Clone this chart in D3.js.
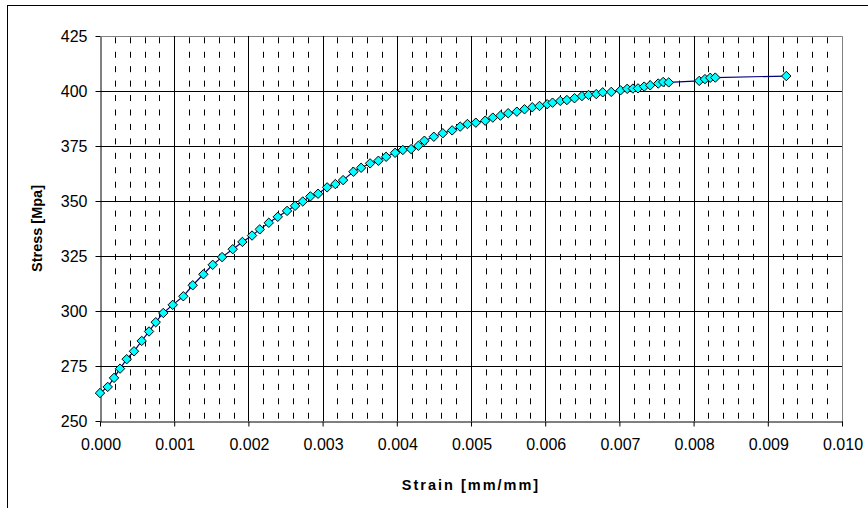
<!DOCTYPE html>
<html>
<head>
<meta charset="utf-8">
<script src="https://cdn.jsdelivr.net/npm/d3@7"></script>
<style>
  html, body { margin: 0; padding: 0; background: #fff; }
  svg { display: block; }
  text { font-family: "Liberation Sans", Arial, sans-serif; fill: #000; }
</style>
</head>
<body>
<svg id="chart" width="868" height="508"></svg>
<script>
// Strain (mm/mm) measured for each reading
const strain = [
  0.000000, 0.000104, 0.000189, 0.000270, 0.000360, 0.000458, 0.000562, 0.000661,
  0.000751, 0.000853, 0.000980, 0.001123, 0.001250, 0.001393, 0.001519, 0.001645,
  0.001789, 0.001919, 0.002049, 0.002153, 0.002275, 0.002396, 0.002521, 0.002629,
  0.002733, 0.002835, 0.002939, 0.003061, 0.003172, 0.003276, 0.003415, 0.003519,
  0.003640, 0.003752, 0.003856, 0.003977, 0.004081, 0.004193, 0.004291, 0.004372,
  0.004499, 0.004620, 0.004746, 0.004854, 0.004952, 0.005065, 0.005191, 0.005294,
  0.005397, 0.005501, 0.005618, 0.005721, 0.005825, 0.005923, 0.006027, 0.006099,
  0.006203, 0.006292, 0.006395, 0.006495, 0.006584, 0.006688, 0.006775, 0.006890,
  0.007015, 0.007105, 0.007182, 0.007251, 0.007334, 0.007415, 0.007523, 0.007590,
  0.007665, 0.008076, 0.008153, 0.008224, 0.008292, 0.009249
];
// Stress (MPa) at the same readings
const stress = [
  262.7, 265.5, 269.6, 273.8, 278.1, 281.7, 286.4, 290.7,
  294.9, 299.1, 302.8, 306.7, 311.7, 316.7, 321.0, 324.5,
  328.1, 331.4, 334.3, 337.1, 340.1, 342.8, 345.5, 347.8,
  349.8, 352.1, 353.3, 356.2, 357.7, 359.5, 363.3, 365.1,
  367.1, 368.3, 370.1, 371.9, 373.2, 373.6, 375.1, 377.4,
  379.2, 380.8, 382.1, 383.8, 385.0, 385.6, 386.5, 387.9,
  388.8, 389.9, 390.6, 391.7, 392.6, 393.2, 394.0, 394.7,
  395.5, 395.9, 396.7, 397.7, 398.2, 398.6, 399.4, 399.6,
  400.3, 401.0, 401.1, 401.2, 402.0, 402.6, 403.4, 404.1,
  403.9, 404.6, 405.4, 406.0, 406.1, 406.8
];

// Axis ticks
const xTicks = [0.000, 0.001, 0.002, 0.003, 0.004, 0.005, 0.006, 0.007, 0.008, 0.009, 0.010];
const xMinorTicks = d3.range(0, 50).map(i => i * 0.0002).filter((d, i) => i % 5 !== 0);
const yTicks = [250, 275, 300, 325, 350, 375, 400, 425];

const xTitle = "Strain [mm/mm]";
const yTitle = "Stress [Mpa]";

const points = strain.map((s, i) => ({ x: s, y: stress[i] }));

const svg = d3.select("#chart");
const plot = { left: 100, top: 36, right: 842, bottom: 421 };

const x = d3.scaleLinear().domain([0, 0.010]).range([plot.left, plot.right]);
const y = d3.scaleLinear().domain([250, 425]).range([plot.bottom, plot.top]);
const crisp = v => Math.round(v) + 0.5;

// Outer chart frame
svg.append("rect")
  .attr("x", 7.5).attr("y", 5.5)
  .attr("width", 1000).attr("height", 1000)
  .attr("fill", "#fff").attr("stroke", "#000").attr("stroke-width", 1);

// Plot area frame (top & right in gray)
svg.append("path")
  .attr("d", `M${crisp(plot.left)},${crisp(plot.top)}H${crisp(plot.right)}V${crisp(plot.bottom)}`)
  .attr("fill", "none").attr("stroke", "#808080");

const grid = svg.append("g");

// Minor vertical dashed gridlines
grid.selectAll("line.minor").data(xMinorTicks).join("line")
  .attr("class", "minor")
  .attr("x1", d => crisp(x(d))).attr("x2", d => crisp(x(d)))
  .attr("y1", plot.top + 1.3).attr("y2", plot.bottom)
  .attr("stroke", "#000").attr("stroke-width", 1)
  .attr("stroke-dasharray", "6,8.44");

// Major vertical gridlines
grid.selectAll("line.vmajor").data(xTicks.slice(1, -1)).join("line")
  .attr("class", "vmajor")
  .attr("x1", d => crisp(x(d))).attr("x2", d => crisp(x(d)))
  .attr("y1", plot.top).attr("y2", plot.bottom)
  .attr("stroke", "#000");

// Major horizontal gridlines
grid.selectAll("line.hmajor").data(yTicks.slice(1, -1)).join("line")
  .attr("class", "hmajor")
  .attr("x1", plot.left).attr("x2", plot.right)
  .attr("y1", d => crisp(y(d))).attr("y2", d => crisp(y(d)))
  .attr("stroke", "#000");

// Axes
const xAxis = svg.append("g")
  .attr("transform", `translate(0.5,${crisp(plot.bottom)})`)
  .call(d3.axisBottom(x).tickValues(xTicks).tickFormat(d3.format(".3f"))
    .tickSizeInner(5).tickSizeOuter(0).tickPadding(12));
const yAxis = svg.append("g")
  .attr("transform", `translate(${crisp(plot.left)},0.5)`)
  .call(d3.axisLeft(y).tickValues(yTicks).tickFormat(d3.format("d"))
    .tickSizeInner(5).tickSizeOuter(0).tickPadding(8));

[xAxis, yAxis].forEach(a => {
  a.select(".domain").attr("stroke", "#000");
  a.selectAll(".tick line").attr("stroke", "#000");
  a.selectAll(".tick text")
    .attr("font-family", "'Liberation Sans', Arial, sans-serif")
    .attr("font-size", 16).attr("fill", "#000");
});
xAxis.selectAll(".tick line").attr("transform", "translate(-0.5,0)");
yAxis.selectAll(".tick line").attr("transform", "translate(0,-0.5)");

// Series line and markers
svg.append("path")
  .datum(points)
  .attr("fill", "none")
  .attr("stroke", "#000080")
  .attr("stroke-width", 1.2)
  .attr("d", d3.line().x(d => x(d.x)).y(d => y(d.y)));

const r = 4.7;
svg.append("g").selectAll("path.marker").data(points).join("path")
  .attr("class", "marker")
  .attr("d", d => {
    const cx = x(d.x), cy = y(d.y);
    return `M${cx},${cy - r}L${cx + r},${cy}L${cx},${cy + r}L${cx - r},${cy}Z`;
  })
  .attr("fill", "#00FFFF")
  .attr("stroke", "#000")
  .attr("stroke-width", 1);

// Axis titles
svg.append("text")
  .attr("x", (plot.left + plot.right) / 2)
  .attr("y", 490)
  .attr("text-anchor", "middle")
  .attr("font-size", 14.5).attr("font-weight", "bold")
  .attr("letter-spacing", 2)
  .text(xTitle);

svg.append("text")
  .attr("transform", `translate(42,${(plot.top + plot.bottom) / 2}) rotate(-90)`)
  .attr("text-anchor", "middle")
  .attr("font-size", 14.5).attr("font-weight", "bold")
  .text(yTitle);
</script>
</body>
</html>
